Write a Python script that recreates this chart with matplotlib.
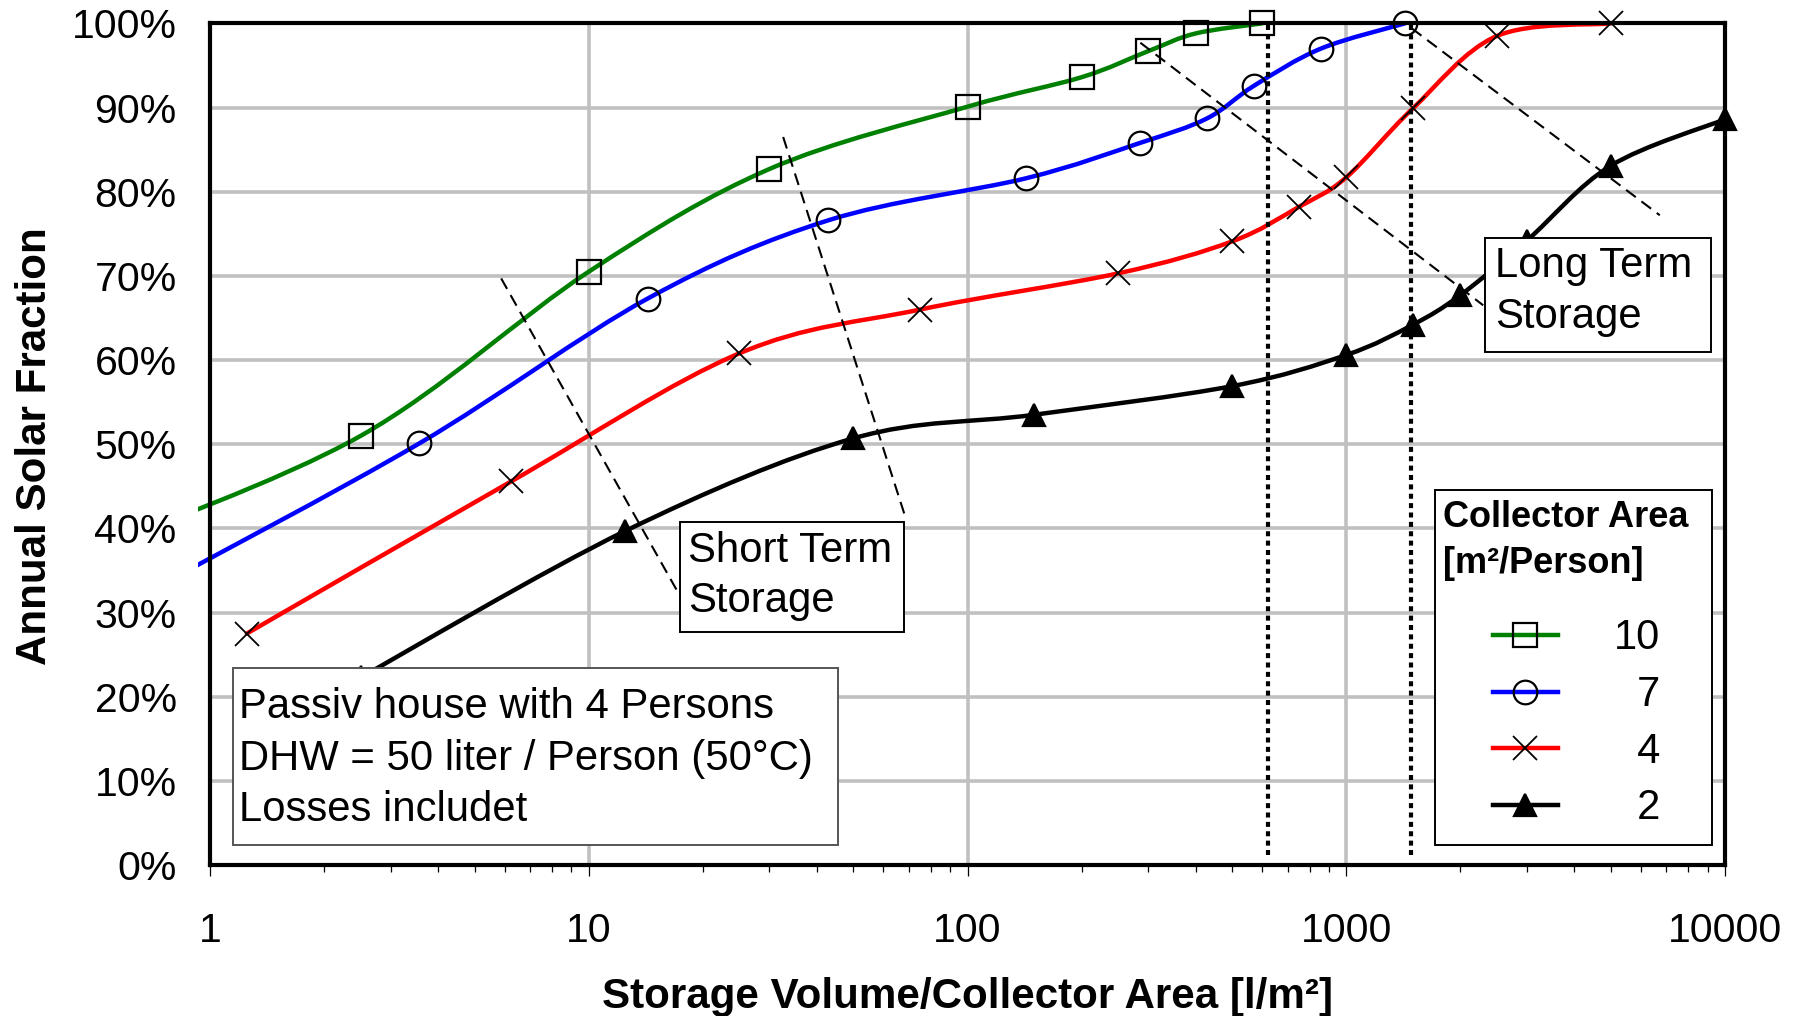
import matplotlib
matplotlib.use("Agg")
import matplotlib.pyplot as plt
import numpy as np
from matplotlib.path import Path
from matplotlib.patches import PathPatch, Rectangle
from matplotlib.lines import Line2D
from matplotlib.ticker import FixedLocator, LogLocator, NullFormatter

plt.rcParams['font.family'] = ['Liberation Sans', 'DejaVu Sans']

# storage volume / collector area [l/m²] and annual solar fraction [%]
x10 = [0.5, 2.5, 10, 30, 100, 200, 300, 400, 600]
y10 = [37.5, 51.0, 70.5, 82.7, 90.1, 93.6, 96.7, 98.8, 100.0]
x7 = [0.714, 3.57, 14.3, 42.9, 142.9, 285.7, 428.6, 571.4, 857.1, 1428.6]
y7 = [32.9, 50.1, 67.3, 76.6, 81.6, 85.8, 88.7, 92.6, 97.0, 100.0]
x4 = [1.25, 6.25, 25, 75, 250, 500, 750, 1000, 1500, 2500, 5000]
y4 = [27.5, 45.6, 60.8, 66.0, 70.3, 74.1, 78.2, 81.7, 89.9, 98.5, 100.0]
x2 = [2.5, 12.5, 50, 150, 500, 1000, 1500, 2000, 3000, 5000, 10000]
y2 = [22.3, 39.7, 50.7, 53.5, 56.9, 60.6, 64.2, 67.7, 74.2, 83.1, 88.6]

labels = ['10', '7', '4', '2']
colors = ['#008000', '#0000ff', '#ff0000', '#000000']
markers = ['s', 'o', 'x', '^']

yticks = [0, 10, 20, 30, 40, 50, 60, 70, 80, 90, 100]
xticks = [1, 10, 100, 1000, 10000]

# helper lines (short term / long term storage)
short_a = ([5.87, 17.6], [69.7, 31.6])
short_b = ([32.6, 68.7], [86.5, 41.2])
long_a = ([286, 2300], [97.7, 66.5])
long_b = ([1490, 6730], [99.4, 77.2])
vlines = [621, 1483]


def smooth_path(xs, ys):
    # Excel-like smoothed line: Catmull-Rom bezier in log-x space
    P = np.column_stack([np.log10(xs), np.asarray(ys, float)])
    n = len(P)
    verts = [P[0]]
    codes = [Path.MOVETO]
    for i in range(n - 1):
        p0 = P[i - 1] if i > 0 else P[i]
        p1, p2 = P[i], P[i + 1]
        p3 = P[i + 2] if i + 2 < n else P[i + 1]
        verts += [p1 + (p2 - p0) / 6, p2 - (p3 - p1) / 6, p2]
        codes += [Path.CURVE4] * 3
    v = np.array(verts)
    v[:, 0] = 10 ** v[:, 0]
    return Path(v, codes)


fig = plt.figure(figsize=(17.97, 10.16), dpi=100)
ax = fig.add_axes([0.1169, 0.1486, 0.9599 - 0.1169, 0.977 - 0.1486])
ax.set_xscale('log')
ax.set_xlim(1, 10000)
ax.set_ylim(0, 100)

clip = Rectangle((-0.008, 0), 1.008, 1.0, transform=ax.transAxes)

series = [(x10, y10), (x7, y7), (x4, y4), (x2, y2)]
handles = []
for (xs, ys), c, m, lab in zip(series, colors, markers, labels):
    pp = PathPatch(smooth_path(xs, ys), fill=False, edgecolor=c, lw=3.2,
                   capstyle='round', joinstyle='round', zorder=2.5)
    ax.add_patch(pp)
    pp.set_clip_path(clip)
    xs_a = np.array(xs)
    ys_a = np.array(ys)
    keep = xs_a >= 1
    mfc = 'black' if m == '^' else 'none'
    ms = 17 if m != '^' else 16
    mew = 1.3 if m == 'x' else 1.6
    ax.plot(xs_a[keep], ys_a[keep], ls='none', marker=m, ms=ms, mfc=mfc,
            mec='black', mew=mew, clip_on=False, zorder=3)
    handles.append(Line2D([], [], color=c, lw=3.2, marker=m, ms=ms, mfc=mfc,
                          mec='black', mew=mew))

# helper lines
for xs, ys in [short_a, short_b, long_a, long_b]:
    ax.plot(xs, ys, color='black', lw=1.5, ls=(0, (5.8, 3.4)), zorder=3.2)
for xv in vlines:
    ax.plot([xv, xv], [1.2, 100], color='black', lw=3.0, ls=(0, (1.2, 1.05)),
            solid_capstyle='butt', dash_capstyle='butt', zorder=3.2)

# text boxes
boxes = [((0.0152, 0.0238), 0.4145 - 0.0152, 0.234 - 0.0238, '#555555'),
         ((0.3102, 0.2767), 0.4581 - 0.3102, 0.4074 - 0.2767, 'black'),
         ((0.8416, 0.6093), 0.9908 - 0.8416, 0.7447 - 0.6093, 'black'),
         ((0.8086, 0.0238), 0.9914 - 0.8086, 0.4454 - 0.0238, 'black')]
for xy, w, h, ec in boxes:
    ax.add_patch(Rectangle(xy, w, h, transform=ax.transAxes, facecolor='white',
                           edgecolor=ec, lw=1.4, zorder=4))

fs = 30.2
texts = [(0.0191, 0.1746, 'Passiv house with 4 Persons'),
         (0.0191, 0.1128, 'DHW = 50 liter / Person (50°C)'),
         (0.0191, 0.0523, 'Losses includet'),
         (0.3155, 0.3599, 'Short Term'),
         (0.3155, 0.3005, 'Storage'),
         (0.848, 0.6983, 'Long Term'),
         (0.848, 0.6378, 'Storage')]
for tx, ty, s in texts:
    ax.text(tx, ty, s, transform=ax.transAxes, fontsize=fs, va='baseline',
            ha='left', zorder=5)

ax.text(0.8139, 0.4014, 'Collector Area', transform=ax.transAxes, fontsize=26,
        fontweight='bold', va='baseline', ha='left', zorder=5)
ax.text(0.8139, 0.3468, '[m²/Person]', transform=ax.transAxes, fontsize=26,
        fontweight='bold', va='baseline', ha='left', zorder=5)

leg_labels = [lab if len(lab) == 2 else '\u2007' + lab for lab in labels]
leg = ax.legend(handles, leg_labels, loc='upper left', bbox_to_anchor=(0.8469, 0.293),
                frameon=False, borderpad=0, borderaxespad=0, handlelength=1.55,
                handletextpad=1.35, labelspacing=0.40, fontsize=30, numpoints=1)
leg.set_zorder(6)

# axes styling
ax.yaxis.set_major_locator(FixedLocator(yticks))
ax.set_yticklabels([f'{v}%' for v in yticks])
ax.xaxis.set_major_locator(FixedLocator(xticks))
ax.set_xticklabels([str(v) for v in xticks])
ax.xaxis.set_minor_locator(LogLocator(base=10, subs=np.arange(2, 10)))
ax.xaxis.set_minor_formatter(NullFormatter())
ax.grid(True, which='major', color='#c0c0c0', lw=2.6)
ax.set_axisbelow(True)
ax.tick_params(axis='x', which='major', length=8, width=0.9, pad=26, labelsize=29.5, direction='out')
ax.tick_params(axis='x', which='minor', length=5, width=0.9, direction='out')
ax.tick_params(axis='y', length=0, pad=24, labelsize=29.5)
for sp in ax.spines.values():
    sp.set_linewidth(3)
    sp.set_zorder(6)

fig.text(0.5385, 0.0079, 'Storage Volume/Collector Area [l/m²]', fontsize=30.3,
         fontweight='bold', ha='center', va='baseline')
fig.text(0.0195, 0.561, 'Annual Solar Fraction', fontsize=30.3, fontweight='bold',
         rotation=90, ha='center', va='center')

fig.savefig('out.png', dpi=100)
